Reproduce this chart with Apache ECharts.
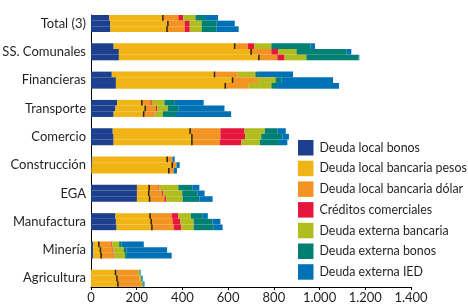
<!DOCTYPE html>
<html>
<head>
<meta charset="utf-8">
<script src="https://cdn.jsdelivr.net/npm/echarts@6/dist/echarts.min.js"></script>
<style>
  html, body { margin: 0; padding: 0; background: #fff; }
  #chart { width: 468px; height: 306px; }
</style>
</head>
<body>
<div id="chart"></div>
<script>
const categories = ['Total (3)', 'SS. Comunales', 'Financieras', 'Transporte', 'Comercio',
  'Construcción', 'EGA', 'Manufactura', 'Minería', 'Agricultura']

// three periods per sector (top bar, middle bar, bottom bar)
const localBonos = [
  [80, 99, 91, 114, 95, 6, 201, 107, 9, 0],
  [84, 122, 109, 107, 99, 3, 201, 109, 10, 0],
  [85, 122, 109, 99, 99, 2, 201, 112, 10, 0]
]
const localPesos = [
  [238, 533, 453, 112, 342, 331, 57, 155, 29, 111],
  [256, 582, 514, 134, 346, 356, 55, 158, 35, 117],
  [251, 616, 482, 135, 346, 342, 59, 158, 38, 121]
]
const localDolar = [
  [64, 54, 98, 34, 129, 19, 37, 91, 51, 95],
  [70, 85, 108, 43, 121, 15, 55, 90, 49, 95],
  [74, 77, 99, 40, 118, 18, 61, 92, 51, 98]
]
const creditos = [
  [22, 29, 0, 6, 106, 0, 4, 29, 4, 0],
  [22, 29, 0, 5, 108, 0, 6, 34, 4, 0],
  [22, 32, 0, 3, 95, 0, 7, 32, 3, 0]
]
const extBancaria = [
  [53, 74, 77, 55, 88, 0, 83, 55, 30, 6],
  [52, 81, 76, 47, 71, 0, 82, 58, 45, 7],
  [52, 95, 99, 37, 80, 0, 73, 55, 47, 7]
]
const extBonos = [
  [42, 171, 12, 43, 55, 0, 63, 52, 10, 2],
  [66, 218, 26, 48, 92, 0, 68, 83, 12, 3],
  [66, 229, 25, 58, 84, 0, 73, 88, 8, 3]
]
const extIED = [
  [57, 20, 153, 129, 37, 10, 29, 22, 98, 3],
  [79, 22, 226, 200, 29, 14, 30, 34, 178, 4],
  [96, 3, 271, 241, 37, 14, 58, 39, 196, 5]
]

const xTicks = [0, 200, 400, 600, 800, 1000, 1200, 1400]

const components = [
  { name: 'Deuda local bonos', data: localBonos, color: '#1c3f8e' },
  { name: 'Deuda local bancaria pesos', data: localPesos, color: '#f0b416' },
  { name: 'Deuda local bancaria dólar', data: localDolar, color: '#f39322' },
  { name: 'Créditos comerciales', data: creditos, color: '#e5173f' },
  { name: 'Deuda externa bancaria', data: extBancaria, color: '#b1bd1e' },
  { name: 'Deuda externa bonos', data: extBonos, color: '#007f73' },
  { name: 'Deuda externa IED', data: extIED, color: '#0071b4' }
]

const FONT = 'Lato, sans-serif'
const FS = 13
const TXT = '#231f20'
const BAR_W = 5.67
const periodOffset = [-BAR_W, 0, BAR_W]

const series = []
for (let p = 0; p < 3; p++) {
  components.forEach(c => {
    series.push({
      name: c.name,
      type: 'bar',
      stack: 'p' + p,
      xAxisIndex: 0,
      yAxisIndex: 0,
      barWidth: BAR_W,
      barGap: '0%',
      itemStyle: { color: c.color },
      data: c.data[p]
    })
  })
}

// black separators at the end of "bancaria pesos"
for (let p = 0; p < 3; p++) {
  series.push({
    name: 'sep',
    type: 'scatter',
    xAxisIndex: 0,
    yAxisIndex: 0,
    symbol: 'rect',
    symbolSize: [1.6, BAR_W],
    symbolOffset: [-0.8, periodOffset[p]],
    itemStyle: { color: '#000' },
    silent: true,
    z: 5,
    data: categories.map((cat, i) => [localBonos[p][i] + localPesos[p][i], cat])
  })
}

const chart = echarts.init(document.getElementById('chart'))
chart.setOption({
  animation: false,
  backgroundColor: '#fff',
  grid: [
    { left: 91, right: 57, top: 9.35, height: 283.1, outerBoundsMode: 'none', containLabel: false },
    { left: 91, right: 57, top: 15, bottom: 19, outerBoundsMode: 'none', containLabel: false }
  ],
  xAxis: [
    { gridIndex: 0, type: 'value', min: 0, max: 1400, show: false },
    {
      gridIndex: 1,
      type: 'value',
      min: 0,
      max: 1400,
      interval: 200,
      axisLine: { show: true, onZero: false, lineStyle: { color: '#000', width: 1 } },
      axisTick: { show: true, length: 3, lineStyle: { color: '#000' } },
      splitLine: { show: false },
      axisLabel: {
        margin: 4,
        color: TXT,
        fontSize: FS,
        fontFamily: FONT,
        formatter: v => xTicks.includes(v) ? String(v).replace(/\B(?=(\d{3})+(?!\d))/g, '.') : ''
      }
    }
  ],
  yAxis: [
    {
      gridIndex: 0,
      type: 'category',
      inverse: true,
      data: categories,
      axisLine: { show: false },
      axisTick: { show: false },
      axisLabel: { margin: 5, color: TXT, fontSize: FS, fontFamily: FONT }
    },
    {
      gridIndex: 1,
      type: 'value',
      axisLine: { show: true, onZero: false, lineStyle: { color: '#000', width: 1 } },
      axisTick: { show: false },
      axisLabel: { show: false },
      splitLine: { show: false }
    }
  ],
  legend: {
    orient: 'vertical',
    left: 298,
    top: 140,
    padding: 0,
    itemWidth: 15.5,
    itemHeight: 15.5,
    itemGap: 5.2,
    icon: 'rect',
    data: components.map(c => c.name),
    textStyle: { color: TXT, fontSize: 12.4, fontFamily: FONT, padding: [0, 0, 0, 1] }
  },
  series
})
</script>
</body>
</html>
